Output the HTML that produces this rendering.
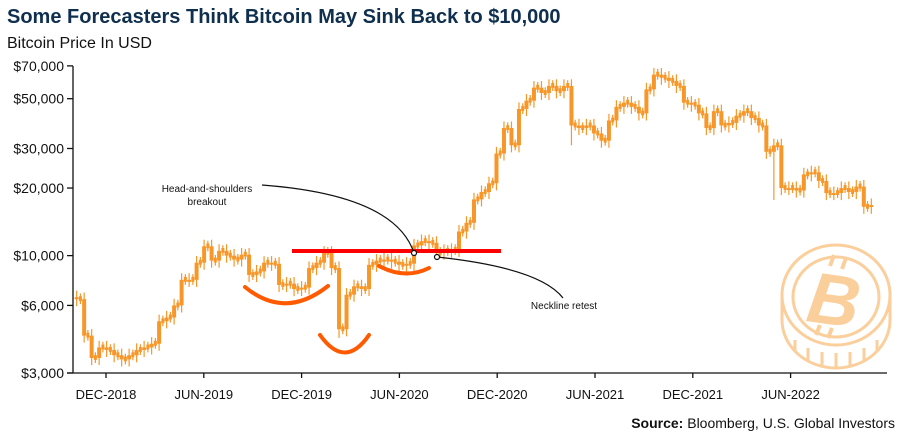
<!DOCTYPE html>
<html><head><meta charset="utf-8"><style>
html,body{margin:0;padding:0;background:#fff;}
body{width:900px;height:436px;overflow:hidden;position:relative;font-family:"Liberation Sans",sans-serif;}
</style></head><body>
<svg id="chart" width="900" height="436" viewBox="0 0 900 436" xmlns="http://www.w3.org/2000/svg" font-family="Liberation Sans, sans-serif">
<text x="7" y="23" font-size="20" font-weight="bold" fill="#0f2f4f">Some Forecasters Think Bitcoin May Sink Back to $10,000</text>
<text x="7" y="48" font-size="16" fill="#111">Bitcoin Price In USD</text>
<g id="coin" fill="none" stroke="#fbcf9c" stroke-width="3">
<path d="M782,292 L782,320 A54,48 0 0 0 890,320 L890,292" />
<line x1="795" y1="340" x2="795" y2="352"/><line x1="808" y1="348" x2="808" y2="362"/><line x1="822" y1="352" x2="822" y2="366"/><line x1="836" y1="353" x2="836" y2="368"/><line x1="850" y1="352" x2="850" y2="366"/><line x1="864" y1="348" x2="864" y2="362"/><line x1="877" y1="340" x2="877" y2="352"/>
<ellipse cx="836" cy="295" rx="54" ry="50" fill="#fff"/>
<ellipse cx="836" cy="297" rx="43" ry="40"/>
<text x="834" y="325" font-size="72" font-weight="bold" font-style="italic" fill="#fbcf9c" stroke="none" text-anchor="middle" transform="rotate(8 836 300)">B</text>
<line x1="834" y1="255" x2="830" y2="266" stroke-width="4"/><line x1="846" y1="258" x2="842" y2="269" stroke-width="4"/>
<line x1="820" y1="325" x2="816" y2="335" stroke-width="4"/><line x1="832" y1="328" x2="828" y2="338" stroke-width="4"/>
</g>
<g id="axes"></g>
<g id="candles"></g>
<g id="annot"></g>
<text x="895" y="428" font-size="14" text-anchor="end" fill="#111"><tspan font-weight="bold">Source:</tspan> Bloomberg, U.S. Global Investors</text>
</svg>
<script>
const yTicks = [3000, 6000, 10000, 20000, 30000, 50000, 70000];
const yTickLabels = ["$3,000","$6,000","$10,000","$20,000","$30,000","$50,000","$70,000"];
const xTickMonths = [0, 6, 12, 18, 24, 30, 36, 42];
const xTickLabels = ["DEC-2018","JUN-2019","DEC-2019","JUN-2020","DEC-2020","JUN-2021","DEC-2021","JUN-2022"];
const startMonth = -1.8;
const stepMonths = 14/30.44;
const closes = [6400,4400,3500,3900,3800,3600,3450,3600,3800,3900,4050,5100,5300,6000,7800,7800,9300,11000,9500,10500,10000,9600,10100,8200,8500,9300,9200,7400,7500,7100,
7200,8800,9300,10300,8800,4700,6700,7300,7100,9100,9500,9600,9400,9100,9200,11100,11600,11400,10300,10500,10600,12800,14000,17800,19200,21000,28500,
37000,31000,45000,49000,56000,53000,57000,54000,57000,38000,37000,38000,35000,32500,40000,46000,48000,46000,43000,55000,64000,62000,60000,57000,48000,47000,
43000,37000,44000,38000,39000,42000,44000,41000,38000,29000,31000,20000,20000,19500,23000,23500,21500,19000,19000,20000,19200,20300,16500,16800];
const lows = {1:4100, 2:3250, 35:4300, 66:31000, 93:17700};

const NS="http://www.w3.org/2000/svg";
const X0=73, X1=887, Y0=373;
function xScale(m){return 106 + m*16.3;}
function yScale(v){return 373 - Math.log(v/3000)*97.5;}
function mk(tag,attrs,parent){const e=document.createElementNS(NS,tag);for(const k in attrs)e.setAttribute(k,attrs[k]);parent.appendChild(e);return e;}

const axes=document.getElementById('axes');
let a=mk('line',{x1:X0,y1:66,x2:X0,y2:Y0,stroke:'#111','stroke-width':1.3},axes);


a=mk('line',{x1:X0-6,y1:Y0,x2:X1,y2:Y0,stroke:'#111','stroke-width':1.3},axes);


yTicks.forEach((v,i)=>{
  const y=yScale(v);
  mk('line',{x1:X0-6,y1:y,x2:X0,y2:y,stroke:'#111','stroke-width':1.3},axes);
  const t=mk('text',{x:64,y:y+5,'font-size':14,'text-anchor':'end',fill:'#111'},axes);
  t.textContent=yTickLabels[i];
  
  
});
xTickMonths.forEach((m,i)=>{
  const x=xScale(m);
  mk('line',{x1:x,y1:Y0,x2:x,y2:Y0+5,stroke:'#111','stroke-width':1.3},axes);
  const t=mk('text',{x:x,y:399,'font-size':13,'text-anchor':'middle',fill:'#111'},axes);
  t.textContent=xTickLabels[i];
  
  
});

const cg=document.getElementById('candles');
closes.forEach((c,i)=>{
  const prev = i===0 ? c*1.02 : closes[i-1];
  const x=xScale(startMonth+i*stepMonths);
  const hi=Math.max(prev,c)*1.07, lo=(lows[i]!==undefined)?lows[i]:Math.min(prev,c)*0.93;
  const g=mk('g',{},cg);
  
  
  mk('line',{x1:x,y1:yScale(hi),x2:x,y2:yScale(lo),stroke:'#f7972a','stroke-width':1.2},g);
  const top=yScale(Math.max(prev,c)), bot=yScale(Math.min(prev,c));
  mk('rect',{x:x-2,y:top,width:4,height:Math.max(2,bot-top),fill:'#f7972a'},g);
  if(i>0){const xm=xScale(startMonth+(i-0.5)*stepMonths);
    mk('line',{x1:xm,y1:yScale(prev*1.06),x2:xm,y2:yScale(prev*0.95),stroke:'#f7972a','stroke-width':1.2},g);
    mk('rect',{x:xm-1.5,y:yScale(prev*1.03),width:3,height:Math.max(2,yScale(prev*0.98)-yScale(prev*1.03)),fill:'#f7972a'},g);}
});

const an=document.getElementById('annot');
function named(el,n){return el;}
named(mk('line',{x1:292,y1:251,x2:501,y2:251,stroke:'#ff0000','stroke-width':4},an),'neckline');
named(mk('path',{d:'M245,287 Q285,320 328,286',fill:'none',stroke:'#ff5a00','stroke-width':4,'stroke-linecap':'round'},an),'left-shoulder-arc');
named(mk('path',{d:'M320,335 Q345,370 369,335',fill:'none',stroke:'#ff5a00','stroke-width':4,'stroke-linecap':'round'},an),'head-arc');
named(mk('path',{d:'M379,266 Q405,280 429,268',fill:'none',stroke:'#ff5a00','stroke-width':4,'stroke-linecap':'round'},an),'right-shoulder-arc');
named(mk('path',{d:'M262,185 Q395,195 414,253',fill:'none',stroke:'#111','stroke-width':1.2},an),'breakout-leader-line');
named(mk('path',{d:'M437,257 Q540,268 563,298',fill:'none',stroke:'#111','stroke-width':1.2},an),'retest-leader-line');
named(mk('circle',{cx:414,cy:253,r:2.5,fill:'#fff',stroke:'#111','stroke-width':1.2},an),'breakout-point');
named(mk('circle',{cx:437,cy:257,r:2.5,fill:'#fff',stroke:'#111','stroke-width':1.2},an),'retest-point');
let t=named(mk('text',{x:207,y:192,'font-size':10,'text-anchor':'middle',fill:'#111'},an),'breakout-label');t.textContent='Head-and-shoulders';
t=named(mk('text',{x:207,y:205,'font-size':10,'text-anchor':'middle',fill:'#111'},an),'breakout-label-2');t.textContent='breakout';
t=named(mk('text',{x:564,y:309,'font-size':10,'text-anchor':'middle',fill:'#111'},an),'retest-label');t.textContent='Neckline retest';
</script>
</body></html>
